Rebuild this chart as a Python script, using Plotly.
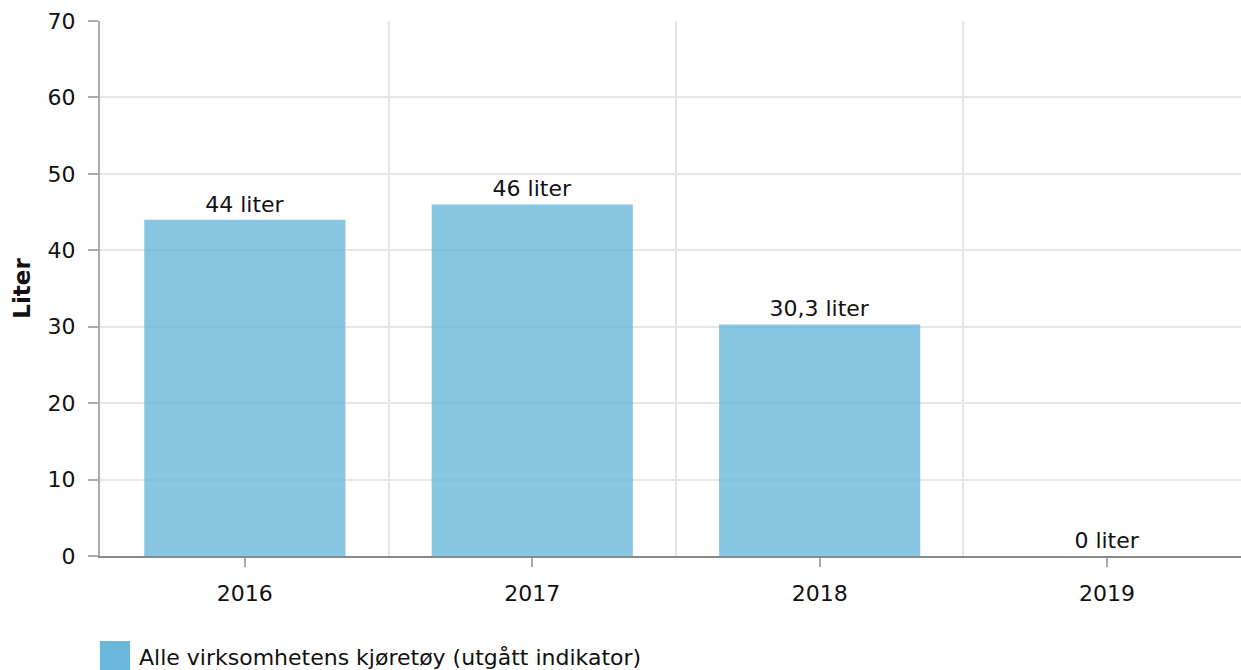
import plotly.graph_objects as go

# Data
years = ['2016', '2017', '2018', '2019']
liters = [44, 46, 30.3, 0]
series_name = 'Alle virksomhetens kjøretøy (utgått indikator)'
y_ticks = [0, 10, 20, 30, 40, 50, 60, 70]

font = 'DejaVu Sans, Verdana, sans-serif'
bar_color = 'rgba(106,183,220,0.8)'
labels = [f'{v:g}'.replace('.', ',') + ' liter' for v in liters]
xpos = list(range(len(years)))

fig = go.Figure(go.Bar(
    x=xpos, y=liters, name=series_name,
    marker=dict(color=bar_color, line=dict(width=0)),
    width=0.7, text=labels, textposition='outside', cliponaxis=False,
    textfont=dict(size=22, color='#111111'), showlegend=False,
))

fig.update_layout(
    width=1241, height=670,
    margin=dict(l=100, r=0, t=21, b=114),
    plot_bgcolor='white', paper_bgcolor='white',
    font=dict(family=font, size=22, color='#111111'),
    xaxis=dict(
        range=[-0.504, 3.466], tickvals=xpos, ticktext=years,
        showgrid=False, zeroline=False,
        showline=True, linecolor='#888888', linewidth=2,
        ticks='outside', ticklen=9, tickcolor='#aaaaaa', tickwidth=2,
        ticklabelstandoff=8,
        minor=dict(tickvals=[0.5, 1.5, 2.5], showgrid=True,
                   gridcolor='#e4e4e4', gridwidth=1.5, ticklen=0),
    ),
    yaxis=dict(
        range=[0, 70], tickvals=y_ticks,
        showgrid=True, gridcolor='#e6e6e6', gridwidth=1.5, zeroline=False,
        showline=True, linecolor='#aaaaaa', linewidth=2,
        ticks='outside', ticklen=10, tickcolor='#aaaaaa', tickwidth=1.5,
        ticklabelstandoff=8,
        title=dict(text='<b>Liter</b>', standoff=11, font=dict(size=23)),
    ),
    shapes=[dict(type='rect', xref='paper', yref='paper',
                 x0=-0.0001, x1=30 / 1141, y0=-(641 - 556) / 535, y1=-(671 - 556) / 535,
                 fillcolor='#6ab7dc', line=dict(width=0))],
    annotations=[dict(text=series_name, xref='paper', yref='paper',
                      x=37 / 1141, y=-(657 - 556) / 535, xanchor='left', yanchor='middle',
                      showarrow=False, font=dict(size=22))],
)

fig.write_html('out.html', config={'displayModeBar': False},
               post_script="document.body.style.margin='0';")
